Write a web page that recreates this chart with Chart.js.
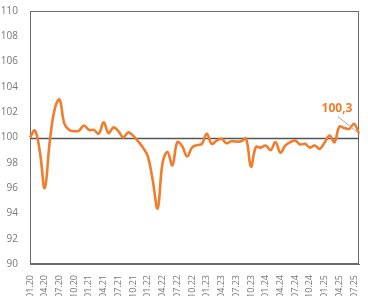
<!DOCTYPE html>
<html>
<head>
<meta charset="utf-8">
<script src="https://cdn.jsdelivr.net/npm/chart.js@4.4.1/dist/chart.umd.min.js"></script>
<style>
  html, body { margin: 0; padding: 0; background: #fff; }
  #wrap { width: 368px; height: 296px; }
</style>
</head>
<body>
<div id="wrap"><canvas id="chart" width="368" height="296"></canvas></div>
<script>
// months 01.20 .. 08.25
const months = [];
for (let yr = 20; yr <= 25; yr++) {
    for (let m = 1; m <= 12; m++) {
        if (yr === 25 && m > 8) break;
        months.push((m < 10 ? '0' + m : '' + m) + '.' + yr);
    }
}

const indexValues = [
    100.0, 100.55, 98.9, 96.0, 99.6, 102.2, 103.0, 101.1, 100.6, 100.5, 100.55, 100.95,
    100.6, 100.6, 100.3, 101.2, 100.35, 100.8, 100.5, 100.0, 100.4, 100.15, 99.7, 99.2,
    98.5, 96.6, 94.4, 98.0, 98.85, 97.8, 99.63, 99.3, 98.5, 99.2, 99.4, 99.5,
    100.3, 99.5, 99.75, 99.9, 99.55, 99.7, 99.68, 99.7, 99.9, 97.7, 99.24, 99.2,
    99.37, 99.0, 99.63, 98.8, 99.37, 99.63, 99.76, 99.45, 99.5, 99.2, 99.37, 99.1,
    99.6, 100.16, 99.63, 100.85, 100.75, 100.68, 101.08, 100.3
];

const baseLevel = 100;
const lastLabel = '100,3';

const yMin = 90, yMax = 110, yStep = 2;

const orange = '#F07D2B';
const axisGray = '#6b6b6b';

const framePlugin = {
    id: 'frame',
    beforeDatasetsDraw(chart) {
        const ctx = chart.ctx;
        const a = chart.chartArea;
        const y = chart.scales.y;
        ctx.save();
        ctx.strokeStyle = axisGray;
        ctx.lineWidth = 1;
        ctx.strokeRect(a.left + 0.5, a.top + 0.5, a.right - a.left - 1, a.bottom - a.top - 1);
        // base line at 100
        const yb = Math.round(y.getPixelForValue(baseLevel)) + 0.5;
        ctx.strokeStyle = '#555';
        ctx.lineWidth = 1.3;
        ctx.beginPath();
        ctx.moveTo(a.left, yb);
        ctx.lineTo(a.right, yb);
        ctx.stroke();
        ctx.restore();
    },
    afterDatasetsDraw(chart) {
        const ctx = chart.ctx;
        const pts = chart.getDatasetMeta(0).data;
        const p = pts[pts.length - 1];
        ctx.save();
        ctx.strokeStyle = '#aaa';
        ctx.lineWidth = 1;
        ctx.beginPath();
        ctx.moveTo(p.x - 21, p.y - 17);
        ctx.lineTo(p.x - 1, p.y - 1);
        ctx.stroke();
        ctx.fillStyle = orange;
        ctx.font = 'bold 12px "Open Sans"';
        ctx.textAlign = 'center';
        ctx.textBaseline = 'middle';
        ctx.fillText(lastLabel, p.x - 22, p.y - 25);
        ctx.restore();
    }
};

const ctx = document.getElementById('chart').getContext('2d');
const chart = new Chart(ctx, {
    type: 'line',
    data: {
        labels: months,
        datasets: [{
            data: indexValues,
            borderColor: orange,
            borderWidth: 2.6,
            pointRadius: 0,
            tension: 0.4,
            fill: false
        }]
    },
    options: {
        responsive: false,
        animation: false,
        layout: { padding: { top: 11, right: 9, left: 0, bottom: 0 } },
        plugins: {
            legend: { display: false },
            tooltip: { enabled: false }
        },
        scales: {
            x: {
                offset: false,
                grid: { display: false },
                border: { display: true, color: axisGray, width: 1 },
                ticks: {
                    autoSkip: false,
                    maxRotation: 90,
                    minRotation: 90,
                    padding: 3,
                    color: '#777',
                    font: { family: 'Open Sans', size: 9 },
                    callback: function(value, index) {
                        return index % 3 === 0 ? this.getLabelForValue(value) : '';
                    }
                },
                afterFit: function(scale) {
                    scale.height = 32;
                    scale.paddingLeft = 0;
                    scale.paddingRight = 0;
                }
            },
            y: {
                min: yMin,
                max: yMax,
                grid: { display: false },
                border: { display: true, color: axisGray, width: 1 },
                ticks: {
                    stepSize: yStep,
                    padding: 4,
                    color: '#777',
                    font: { family: 'Open Sans', size: 10 }
                },
                afterFit: function(scale) { scale.width = 30; }
            }
        }
    },
    plugins: [framePlugin]
});
</script>
</body>
</html>
